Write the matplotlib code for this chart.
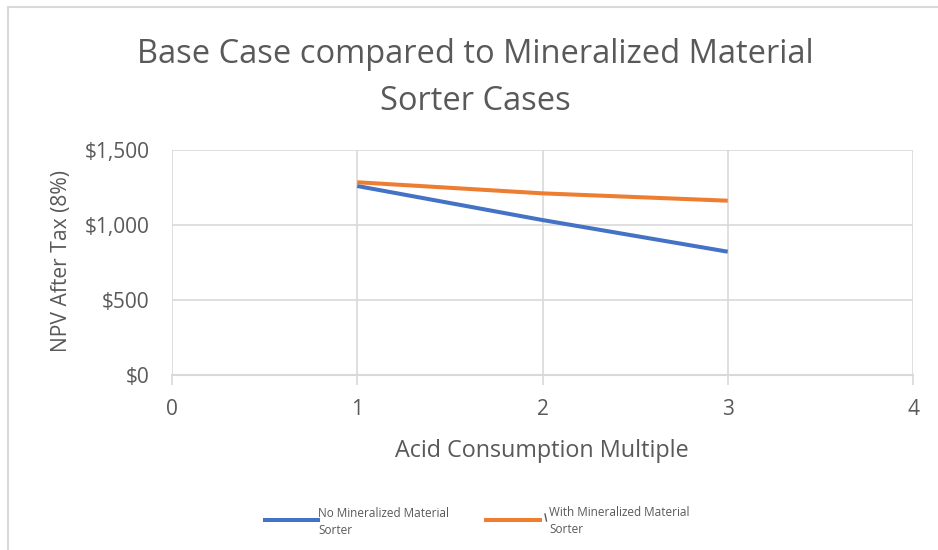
import matplotlib
matplotlib.use("Agg")
import matplotlib.pyplot as plt
from matplotlib.patches import Rectangle
from matplotlib.lines import Line2D
from matplotlib.ticker import FuncFormatter, MultipleLocator

plt.rcParams['font.family'] = ['Open Sans', 'DejaVu Sans']

acid_multiple = [1, 2, 3]
npv_no_sorter = [1260, 1033, 822]
npv_with_sorter = [1285, 1211, 1162]
series_labels = ["No Mineralized Material\nSorter", "With Mineralized Material\nSorter"]
title = "Base Case compared to Mineralized Material\nSorter Cases"
x_label = "Acid Consumption Multiple"
y_label = "NPV After Tax (8%)"

BLUE = "#4472C4"
ORANGE = "#ED7D31"
GRID = "#D9D9D9"
TEXT = "#595959"

W, H = 938, 550
fig = plt.figure(figsize=(W / 100, H / 100), dpi=100)

# chart frame (runs past the right and bottom edges)
fig.patches.append(Rectangle((8 / W, -0.2), 1.3, 1.2 - 7 / H, transform=fig.transFigure,
                             fill=False, edgecolor=GRID, linewidth=1.5))

ax = fig.add_axes([172 / W, 1 - 375 / H, (913 - 172) / W, (375 - 150) / H])
ax.plot(acid_multiple, npv_no_sorter, color=BLUE, linewidth=2.9, solid_capstyle='butt')
ax.plot(acid_multiple, npv_with_sorter, color=ORANGE, linewidth=2.9, solid_capstyle='butt')

ax.set_xlim(0, 4)
ax.set_ylim(0, 1500)
ax.xaxis.set_major_locator(MultipleLocator(1))
ax.yaxis.set_major_locator(MultipleLocator(500))
ax.yaxis.set_major_formatter(FuncFormatter(lambda v, p: f"${v:,.0f}"))
ax.grid(True, color=GRID, linewidth=1.2)
ax.set_axisbelow(True)
for side in ['top', 'right', 'left']:
    ax.spines[side].set_visible(False)
ax.spines['bottom'].set_color(GRID)
ax.spines['bottom'].set_linewidth(1.5)
ax.tick_params(axis='x', colors=GRID, length=7, width=1.2, labelcolor=TEXT,
               labelsize=15, pad=10)
ax.tick_params(axis='y', length=0, labelcolor=TEXT, labelsize=15, pad=16)

fig.text(542 / W, 1 - 451 / H, x_label, ha='center', va='center', fontsize=16.8, color=TEXT)
fig.text(62 / W, 1 - 261 / H, y_label, ha='center', va='center', fontsize=15.2, color=TEXT,
         rotation=90)
fig.text(475 / W, 1 - 78 / H, title, ha='center', va='center', fontsize=23.5, color=TEXT,
         linespacing=1.55)

# legend
fig.add_artist(Line2D([265 / W, 318 / W], [1 - 520 / H] * 2, color=BLUE, linewidth=2.9,
                      transform=fig.transFigure))
fig.add_artist(Line2D([486 / W, 540 / W], [1 - 520 / H] * 2, color=ORANGE, linewidth=2.9,
                      transform=fig.transFigure))
fig.add_artist(Line2D([545 / W, 546.5 / W], [1 - 514 / H, 1 - 521 / H], color=TEXT,
                      linewidth=1.0, transform=fig.transFigure))
fig.text(318 / W, 1 - 522 / H, series_labels[0], ha='left', va='center', fontsize=8.5,
         color=TEXT, linespacing=1.4)
fig.text(549 / W, 1 - 521 / H, series_labels[1], ha='left', va='center', fontsize=8.5,
         color=TEXT, linespacing=1.4)

fig.savefig("out.png", dpi=100, facecolor='white')
